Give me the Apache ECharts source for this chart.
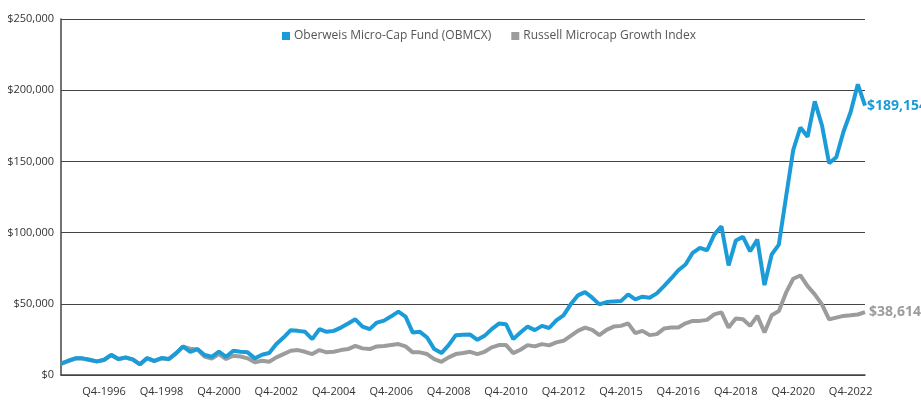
<!DOCTYPE html>
<html>
<head>
<meta charset="utf-8">
<script src="https://cdn.jsdelivr.net/npm/echarts@6/dist/echarts.min.js"></script>
<style>
html,body{margin:0;padding:0;background:#fff;}
#chart{width:921px;height:400px;}
</style>
</head>
<body>
<div id="chart"></div>
<script>
// Quarterly categories: Q2-1995 .. Q2-2023 (113 quarters)
const startYear = 1995, startQuarter = 2, pointCount = 113;
const quarters = [];
for (let i = 0; i < pointCount; i++) {
  const q = (startQuarter - 1 + i) % 4 + 1;
  const y = startYear + Math.floor((startQuarter - 1 + i) / 4);
  quarters.push('Q' + q + '-' + y);
}

// Tick labels shown on the x axis: [category, text]
const tickLabels = [
  ['Q4-1996','Q4-1996'], ['Q4-1998','Q4-1998'], ['Q4-2000','Q4-2000'], ['Q4-2002','Q4-2002'],
  ['Q4-2004','Q4-2004'], ['Q4-2006','Q4-2006'], ['Q4-2008','Q4-2008'], ['Q4-2010','Q4-2010'],
  ['Q4-2012','Q4-2012'], ['Q4-2014','Q4-2015'], ['Q4-2016','Q4-2016'], ['Q4-2018','Q4-2018'],
  ['Q4-2020','Q4-2020'], ['Q4-2022','Q4-2022']
];

const fundName = 'Oberweis Micro-Cap Fund (OBMCX)';
const indexName = 'Russell Microcap Growth Index';
const fundEndLabel = '$189,154';
const indexEndLabel = '$38,614';

const fundValues = [
  8000, 10000, 11700, 11700, 10700, 9600, 10700, 14200, 11200, 12400,
  11000, 7500, 11900, 10000, 11900, 11200, 15200, 20100, 16300, 18200,
  14000, 12800, 16500, 12800, 17000, 16300, 15900, 11700, 14200, 15400,
  21700, 26300, 31500, 31000, 30300, 25200, 32200, 30300, 31000, 33300,
  36100, 39100, 34000, 32200, 36800, 38200, 41200, 44500, 41000, 29800,
  30300, 26300, 18200, 15400, 21000, 28000, 28200, 28400, 24700, 27500,
  32200, 36100, 35600, 25200, 29800, 34000, 31500, 34500, 33000, 38400,
  41900, 49600, 55900, 58200, 54300, 49600, 51200, 51700, 51900, 56600,
  53100, 55000, 54300, 57300, 62400, 67800, 73600, 77600, 85800, 89300,
  87600, 98600, 104400, 76900, 94400, 97000, 86900, 95100, 63100, 84600,
  91600, 125000, 158000, 173800, 167300, 192200, 175400, 148700, 152900, 170800,
  184700, 204100, 189154
];

const indexValues = [
  7800, 9800, 11500, 11500, 10500, 9400, 10500, 13900, 11000, 12200,
  10800, 7400, 11700, 9800, 11700, 11000, 15000, 19800, 18500, 18000,
  13000, 11500, 14700, 11200, 13500, 13000, 11700, 8900, 10000, 9300,
  12400, 14700, 17000, 17500, 16300, 14700, 17500, 15900, 16300, 17500,
  18200, 20500, 18700, 18200, 20100, 20300, 21000, 21700, 20100, 15900,
  15900, 14700, 11200, 9300, 12400, 14700, 15400, 16300, 14700, 16300,
  19400, 21000, 21000, 15400, 17700, 21000, 20100, 21700, 20800, 22900,
  24000, 27500, 31000, 33300, 31700, 28000, 31700, 34000, 34500, 36300,
  29400, 31000, 28000, 28700, 32600, 33300, 33300, 36300, 38000, 38000,
  38700, 42600, 44000, 33300, 39600, 39100, 34500, 41500, 29800, 41900,
  44900, 57800, 67600, 69900, 62400, 56600, 49600, 39100, 40300, 41500,
  41900, 42500, 44200
];

const tickMap = {};
tickLabels.forEach(t => { tickMap[t[0]] = t[1]; });

const BLUE = '#1b9cd8';
const GRAY = '#9c9c9c';
const FONT = "'Open Sans', sans-serif";

const chart = echarts.init(document.getElementById('chart'), null, {renderer: 'canvas'});
chart.setOption({
  animation: false,
  grid: {left: 61, right: 56, top: 19, bottom: 25, containLabel: false},
  legend: {
    data: [fundName, indexName],
    left: 277, top: 25,
    icon: 'rect', itemWidth: 8, itemHeight: 8, itemGap: 20,
    textStyle: {fontFamily: FONT, fontSize: 12, color: '#555', padding: [0, 0, 0, -1]}
  },
  xAxis: {
    type: 'category',
    data: quarters,
    boundaryGap: false,
    axisLine: {show: true, lineStyle: {color: '#444', width: 1.5}},
    axisTick: {show: false},
    splitLine: {show: false},
    axisLabel: {
      interval: (idx, val) => tickMap[val] !== undefined,
      formatter: val => tickMap[val] || '',
      margin: 11,
      fontFamily: FONT, fontSize: 11, color: '#333'
    }
  },
  yAxis: {
    type: 'value',
    min: 0, max: 250000, interval: 50000,
    axisLine: {show: true, lineStyle: {color: '#444', width: 1.5}},
    axisTick: {show: false},
    splitLine: {show: true, lineStyle: {color: '#444', width: 1}},
    axisLabel: {
      formatter: v => '$' + v.toLocaleString('en-US'),
      margin: 7,
      fontFamily: FONT, fontSize: 11, color: '#333'
    }
  },
  series: [
    {
      name: fundName,
      type: 'line',
      data: fundValues,
      z: 4,
      color: BLUE,
      symbol: 'none',
      lineStyle: {color: BLUE, width: 4},
      itemStyle: {color: BLUE},
      endLabel: {
        show: true, formatter: () => fundEndLabel, distance: 2,
        color: BLUE, fontFamily: FONT, fontWeight: 'bold', fontSize: 14
      }
    },
    {
      name: indexName,
      type: 'line',
      data: indexValues,
      z: 3,
      color: GRAY,
      symbol: 'none',
      lineStyle: {color: GRAY, width: 4},
      itemStyle: {color: GRAY},
      endLabel: {
        show: true, formatter: () => indexEndLabel, distance: 4,
        color: GRAY, fontFamily: FONT, fontWeight: 'bold', fontSize: 14
      }
    }
  ]
});
</script>
</body>
</html>
